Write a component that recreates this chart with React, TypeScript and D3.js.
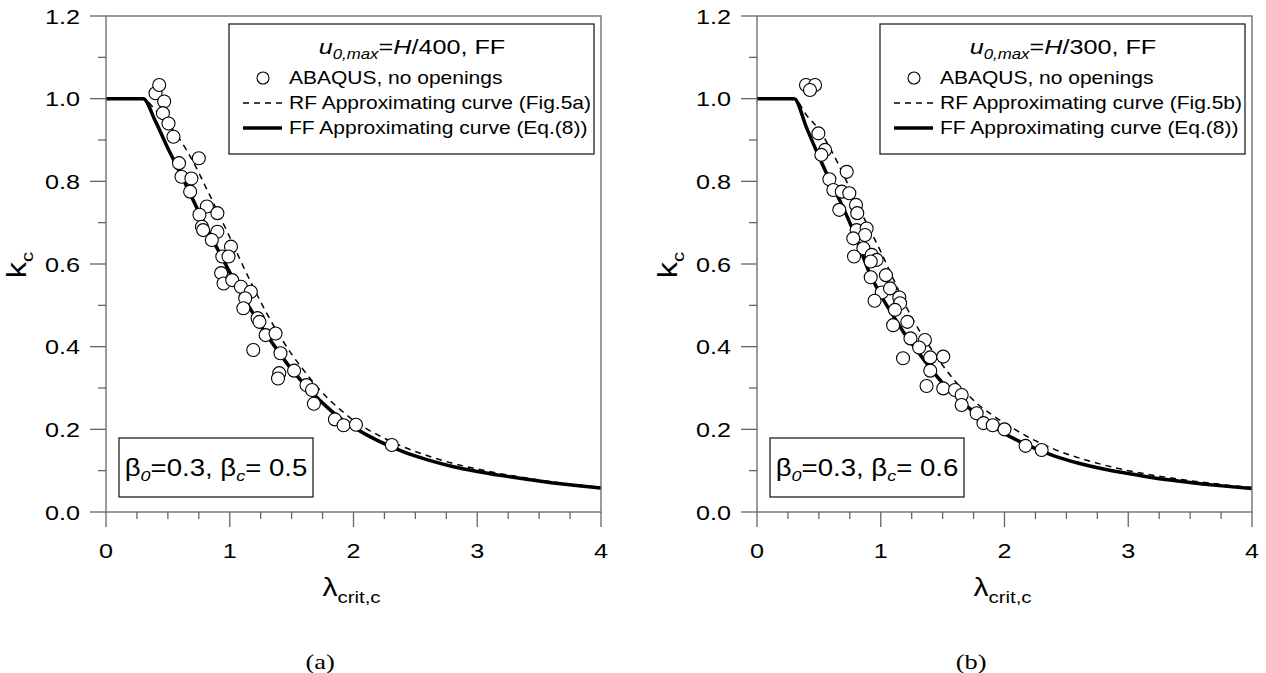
import React from "react";
import * as d3 from "d3";

// ---------- data ----------
const xTickValues = [0, 1, 2, 3, 4];
const yTickValues = [0.0, 0.2, 0.4, 0.6, 0.8, 1.0, 1.2];
const yTickLabels = ["0.0", "0.2", "0.4", "0.6", "0.8", "1.0", "1.2"];

// Panel (a): u0,max = H/400, beta_c = 0.5
const abaqusA: [number, number][] = [
  [0.40, 1.013], [0.43, 1.033], [0.47, 0.993], [0.46, 0.965], [0.505, 0.94], [0.545, 0.908],
  [0.75, 0.856], [0.59, 0.844], [0.61, 0.811], [0.69, 0.807], [0.68, 0.775], [0.815, 0.739],
  [0.90, 0.723], [0.755, 0.719], [0.775, 0.69], [0.785, 0.682], [0.90, 0.678], [0.855, 0.658],
  [1.01, 0.642], [0.94, 0.618], [0.99, 0.618], [0.93, 0.578], [0.95, 0.553], [1.02, 0.561],
  [1.09, 0.545], [1.17, 0.533], [1.125, 0.517], [1.11, 0.493], [1.225, 0.469], [1.24, 0.46],
  [1.29, 0.428], [1.37, 0.432], [1.19, 0.392], [1.41, 0.384], [1.52, 0.342], [1.40, 0.336],
  [1.39, 0.323], [1.62, 0.307], [1.665, 0.295], [1.68, 0.262], [1.85, 0.224], [1.92, 0.21],
  [2.02, 0.211], [2.31, 0.162],
];
const rfCurveA: [number, number][] = [
  [0, 1], [0.3, 1], [0.4, 0.972], [0.5, 0.94], [0.6, 0.9], [0.7, 0.85], [0.8, 0.79], [0.9, 0.728],
  [1.0, 0.665], [1.1, 0.6], [1.2, 0.538], [1.3, 0.48], [1.4, 0.428], [1.5, 0.382], [1.6, 0.342],
  [1.7, 0.305], [1.8, 0.273], [1.9, 0.246], [2.0, 0.222], [2.2, 0.186], [2.4, 0.158], [2.6, 0.136],
  [2.8, 0.118], [3.0, 0.104], [3.2, 0.092], [3.4, 0.082], [3.6, 0.073], [3.8, 0.066], [4.0, 0.06],
];
const ffCurveA: [number, number][] = [
  [0, 1], [0.3, 1], [0.4, 0.945], [0.5, 0.88], [0.6, 0.82], [0.7, 0.757], [0.8, 0.695], [0.9, 0.637],
  [1.0, 0.58], [1.1, 0.525], [1.2, 0.475], [1.3, 0.428], [1.4, 0.385], [1.5, 0.345], [1.6, 0.31],
  [1.7, 0.278], [1.8, 0.25], [1.9, 0.225], [2.0, 0.205], [2.2, 0.172], [2.4, 0.146], [2.6, 0.126],
  [2.8, 0.11], [3.0, 0.098], [3.2, 0.088], [3.4, 0.079], [3.6, 0.071], [3.8, 0.064], [4.0, 0.058],
];

// Panel (b): u0,max = H/300, beta_c = 0.6
const abaqusB: [number, number][] = [
  [0.396, 1.033], [0.469, 1.033], [0.428, 1.021], [0.496, 0.916], [0.55, 0.876], [0.52, 0.864],
  [0.725, 0.823], [0.585, 0.805], [0.617, 0.779], [0.685, 0.775], [0.746, 0.771], [0.665, 0.731],
  [0.80, 0.743], [0.81, 0.723], [0.805, 0.682], [0.886, 0.686], [0.873, 0.67], [0.778, 0.662],
  [0.86, 0.638], [0.784, 0.618], [0.927, 0.622], [0.967, 0.61], [0.919, 0.606], [0.919, 0.568],
  [1.042, 0.573], [1.008, 0.531], [1.075, 0.541], [0.95, 0.511], [1.15, 0.519], [1.156, 0.505],
  [1.115, 0.489], [1.10, 0.452], [1.215, 0.46], [1.24, 0.42], [1.357, 0.416], [1.31, 0.398],
  [1.18, 0.372], [1.40, 0.374], [1.505, 0.376], [1.40, 0.342], [1.37, 0.305], [1.505, 0.299],
  [1.60, 0.295], [1.654, 0.283], [1.654, 0.259], [1.775, 0.239], [1.83, 0.215], [1.905, 0.21],
  [2.0, 0.20], [2.17, 0.16], [2.30, 0.15],
];
const rfCurveB: [number, number][] = [
  [0, 1], [0.3, 1], [0.4, 0.96], [0.5, 0.925], [0.6, 0.875], [0.7, 0.815], [0.8, 0.75], [0.9, 0.69],
  [1.0, 0.63], [1.1, 0.565], [1.2, 0.5], [1.3, 0.445], [1.4, 0.398], [1.5, 0.355], [1.6, 0.317],
  [1.7, 0.285], [1.8, 0.257], [1.9, 0.235], [2.0, 0.215], [2.2, 0.18], [2.4, 0.152], [2.6, 0.131],
  [2.8, 0.114], [3.0, 0.1], [3.2, 0.089], [3.4, 0.08], [3.6, 0.072], [3.8, 0.065], [4.0, 0.059],
];
const ffCurveB: [number, number][] = [
  [0, 1], [0.3, 1], [0.4, 0.93], [0.5, 0.86], [0.6, 0.795], [0.7, 0.734], [0.8, 0.664], [0.9, 0.585],
  [1.0, 0.525], [1.1, 0.475], [1.2, 0.428], [1.3, 0.388], [1.4, 0.348], [1.5, 0.312], [1.6, 0.283],
  [1.7, 0.255], [1.8, 0.232], [1.9, 0.21], [2.0, 0.19], [2.2, 0.16], [2.4, 0.136], [2.6, 0.118],
  [2.8, 0.104], [3.0, 0.093], [3.2, 0.083], [3.4, 0.075], [3.6, 0.068], [3.8, 0.062], [4.0, 0.057],
];

const legendTitleDenomA = "400";
const legendTitleDenomB = "300";
const legendRfLabelA = "RF Approximating curve (Fig.5a)";
const legendRfLabelB = "RF Approximating curve (Fig.5b)";
const betaCA = "0.5";
const betaCB = "0.6";

// ---------- layout ----------
const W = 1266;
const H = 673;
const SX = 1.2; // horizontal text stretch of the original
const FONT = "'Liberation Sans', Arial, sans-serif";
const SERIF = "'Liberation Serif', 'Times New Roman', serif";
const AXIS_COLOR = "#666";

function ST(props: any) {
  const { x, y, anchor = "start", size, family = FONT, children, ...rest } = props;
  return (
    <text
      transform={`translate(${x},${y}) scale(${SX},1)`}
      textAnchor={anchor}
      fontSize={size}
      fontFamily={family}
      fill="#000"
      {...rest}
    >
      {children}
    </text>
  );
}

function Panel(props: {
  left: number;
  abaqus: [number, number][];
  rf: [number, number][];
  ff: [number, number][];
  denom: string;
  rfLabel: string;
  betaC: string;
  tag: string;
}) {
  const { left, abaqus, rf, ff, denom, rfLabel, betaC, tag } = props;
  const right = left + 495;
  const top = 16;
  const bottom = 512;
  const x = d3.scaleLinear().domain([0, 4]).range([left, right]);
  const y = d3.scaleLinear().domain([0, 1.2]).range([bottom, top]);
  const line = d3
    .line<[number, number]>()
    .x((d) => x(d[0]))
    .y((d) => y(d[1]))
    .curve(d3.curveMonotoneX);

  const xMinor = d3.range(0, 4.001, 0.25).filter((v) => Math.abs(v - Math.round(v)) > 1e-6);
  const yMinor = d3.range(0.1, 1.2, 0.2);
  const o = left - 106; // offset relative to panel (a)

  return (
    <g>
      {/* curves */}
      <path d={line(rf) || ""} fill="none" stroke="#000" strokeWidth={1.5} strokeDasharray="6,5" />
      <path d={line(ff) || ""} fill="none" stroke="#000" strokeWidth={3.5} strokeLinejoin="round" />
      {/* points */}
      {abaqus.map((d, i) => (
        <circle key={i} cx={x(d[0])} cy={y(d[1])} r={6.5} fill="#fff" stroke="#000" strokeWidth={1.1} />
      ))}

      {/* frame */}
      <rect x={left} y={top} width={right - left} height={bottom - top} fill="none" stroke={AXIS_COLOR} strokeWidth={1.3} />
      {/* y ticks */}
      {yTickValues.map((v, i) => (
        <g key={"yt" + i}>
          <line x1={left - 16} x2={left} y1={y(v)} y2={y(v)} stroke={AXIS_COLOR} strokeWidth={1.3} />
          <ST x={left - 26} y={y(v) + 7.5} anchor="end" size={21}>
            {yTickLabels[i]}
          </ST>
        </g>
      ))}
      {yMinor.map((v, i) => (
        <line key={"ym" + i} x1={left - 8} x2={left} y1={y(v)} y2={y(v)} stroke={AXIS_COLOR} strokeWidth={1.3} />
      ))}
      {/* x ticks */}
      {xTickValues.map((v, i) => (
        <g key={"xt" + i}>
          <line x1={x(v)} x2={x(v)} y1={bottom} y2={bottom + 15} stroke={AXIS_COLOR} strokeWidth={1.3} />
          <ST x={x(v)} y={558} anchor="middle" size={21}>
            {String(v)}
          </ST>
        </g>
      ))}
      {xMinor.map((v, i) => (
        <line key={"xm" + i} x1={x(v)} x2={x(v)} y1={bottom} y2={bottom + 7} stroke={AXIS_COLOR} strokeWidth={1.3} />
      ))}

      {/* axis labels */}
      <ST x={x(2) - 2} y={596} anchor="middle" size={25}>
        <tspan>λ</tspan>
        <tspan fontSize={17} dy={7}>crit,c</tspan>
      </ST>
      <text
        transform={`translate(${left - 80},${265}) rotate(-90) scale(${SX},1)`}
        textAnchor="middle"
        fontSize={27}
        fontFamily={FONT}
      >
        <tspan>k</tspan>
        <tspan fontSize={17} dy={7}>c</tspan>
      </text>

      {/* legend */}
      <rect x={229 + o} y={24} width={365} height={130} fill="#fff" stroke="#222" strokeWidth={1.3} />
      <ST x={412 + o} y={54} anchor="middle" size={21}>
        <tspan fontStyle="italic">u</tspan>
        <tspan fontStyle="italic" fontSize={14} dy={5}>0,max</tspan>
        <tspan dy={-5}>=</tspan>
        <tspan fontStyle="italic">H</tspan>
        <tspan>/{denom}, FF</tspan>
      </ST>
      <circle cx={263 + o} cy={78} r={6} fill="#fff" stroke="#000" strokeWidth={1.1} />
      <ST x={289 + o} y={84} size={17.5}>ABAQUS, no openings</ST>
      <line x1={243 + o} x2={282 + o} y1={103} y2={103} stroke="#000" strokeWidth={1.5} strokeDasharray="6,5" />
      <ST x={289 + o} y={109} size={17.5}>{rfLabel}</ST>
      <line x1={243 + o} x2={282 + o} y1={128} y2={128} stroke="#000" strokeWidth={3.5} />
      <ST x={289 + o} y={134} size={17.5}>FF Approximating curve (Eq.(8))</ST>

      {/* annotation box */}
      <rect x={119 + o} y={438} width={194} height={59} fill="#fff" stroke="#222" strokeWidth={1.3} />
      <ST x={216 + o} y={476} anchor="middle" size={23}>
        <tspan>β</tspan>
        <tspan fontStyle="italic" fontSize={15} dy={5}>0</tspan>
        <tspan dy={-5}>=0.3, β</tspan>
        <tspan fontStyle="italic" fontSize={15} dy={5}>c</tspan>
        <tspan dy={-5}>= {betaC}</tspan>
      </ST>

      {/* panel tag */}
      <ST x={x(1.73)} y={669} anchor="middle" size={22} family={SERIF}>
        {tag}
      </ST>
    </g>
  );
}

export default function App() {
  return (
    <svg width={W} height={H} style={{ display: "block", position: "absolute", left: 0, top: 0, background: "#fff" }}>
      <rect width={W} height={H} fill="#fff" />
      <Panel left={106} abaqus={abaqusA} rf={rfCurveA} ff={ffCurveA} denom={legendTitleDenomA} rfLabel={legendRfLabelA} betaC={betaCA} tag="(a)" />
      <Panel left={757} abaqus={abaqusB} rf={rfCurveB} ff={ffCurveB} denom={legendTitleDenomB} rfLabel={legendRfLabelB} betaC={betaCB} tag="(b)" />
    </svg>
  );
}
